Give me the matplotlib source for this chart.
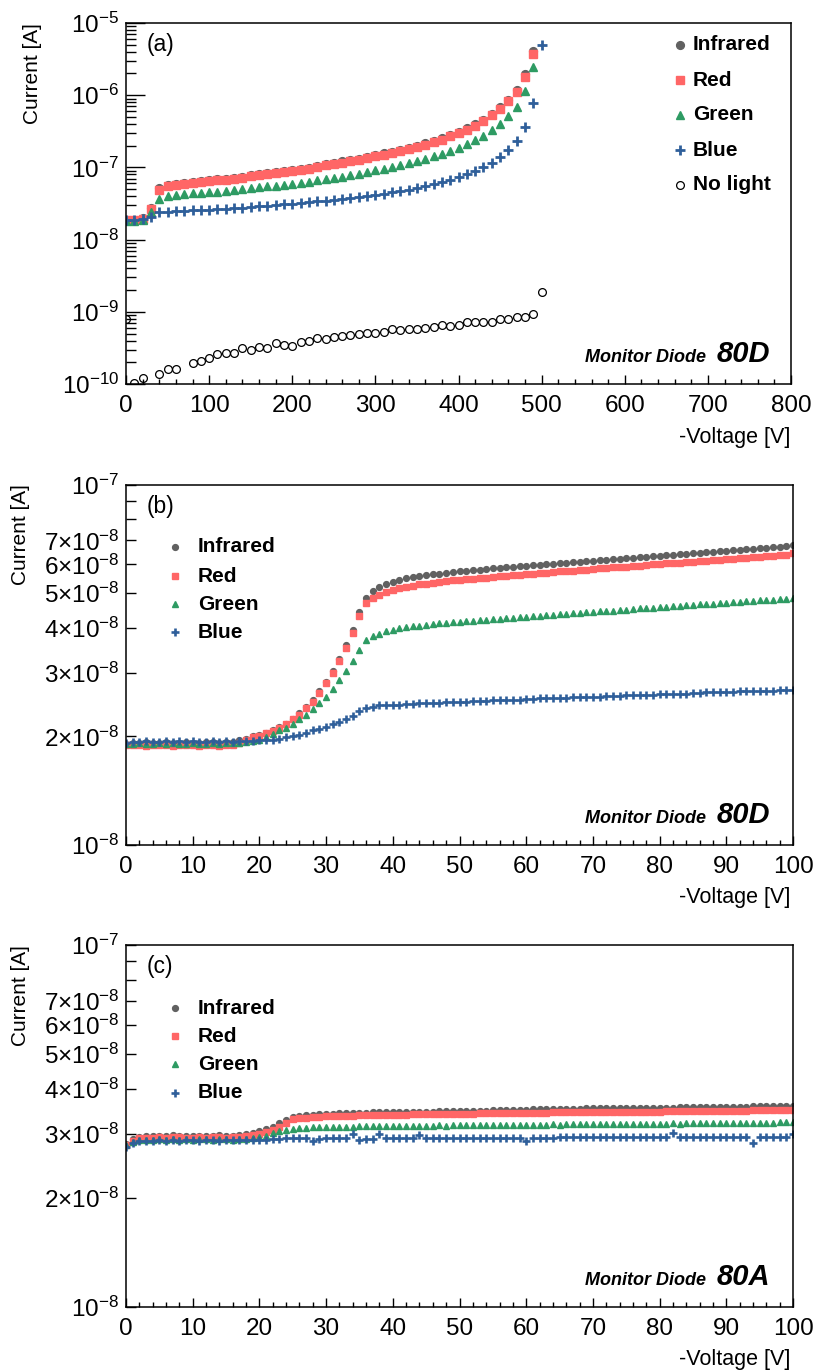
import numpy as np
import matplotlib
matplotlib.use('Agg')
import matplotlib.pyplot as plt
from matplotlib.ticker import FixedLocator, FuncFormatter, MultipleLocator, NullFormatter

plt.rcParams['font.family'] = 'Liberation Sans'
plt.rcParams['mathtext.fontset'] = 'custom'
plt.rcParams['mathtext.rm'] = 'Liberation Sans'
plt.rcParams['mathtext.it'] = 'Liberation Sans:italic'
plt.rcParams['mathtext.bf'] = 'Liberation Sans:bold'

# ---- (a) Monitor Diode 80D, full sweep, 10 V steps ----
volt_a = np.arange(0, 510, 10)
# currents in units of 1e-8 A (0 ... 490 V)
infrared_a = [1.86, 1.86, 1.96, 2.75, 5.14, 5.66, 5.97, 6.17, 6.36, 6.50,
              6.65, 6.85, 7.01, 7.24, 7.47, 7.80, 8.05, 8.39, 8.66, 8.94,
              9.25, 9.65, 9.96, 10.5, 11.1, 11.5, 12.1, 12.6, 13.1, 13.8,
              14.8, 15.6, 16.6, 17.6, 18.7, 20.0, 21.5, 23.4, 25.2, 28.1,
              31.2, 34.7, 39.4, 45.8, 55.0, 68.5, 87.0, 117, 196, 411]
red_a = [1.84, 1.84, 1.94, 2.67, 4.94, 5.44, 5.74, 5.93, 6.12, 6.25,
         6.39, 6.59, 6.74, 6.96, 7.18, 7.50, 7.74, 8.07, 8.33, 8.60,
         8.89, 9.28, 9.58, 10.1, 10.7, 11.1, 11.6, 12.1, 12.6, 13.3,
         14.2, 15.0, 16.0, 16.9, 18.0, 19.2, 20.7, 22.5, 24.2, 27.0,
         30.0, 33.4, 37.9, 44.0, 52.8, 65.3, 82.6, 110, 176, 367]
green_a = [1.80, 1.80, 1.86, 2.40, 3.66, 4.00, 4.19, 4.29, 4.40, 4.46,
           4.52, 4.63, 4.72, 4.84, 4.97, 5.15, 5.28, 5.47, 5.61, 5.74,
           5.91, 6.13, 6.30, 6.60, 6.96, 7.17, 7.48, 7.78, 8.08, 8.51,
           9.06, 9.55, 10.2, 10.7, 11.4, 12.1, 13.1, 14.2, 15.2, 16.9,
           18.8, 20.8, 23.6, 27.3, 32.7, 40.3, 51.0, 69.4, 114, 248]
# 0 ... 500 V
blue_a = [1.85, 1.85, 1.91, 2.04, 2.40, 2.45, 2.49, 2.52, 2.55, 2.57,
          2.60, 2.64, 2.68, 2.73, 2.78, 2.84, 2.90, 2.96, 3.02, 3.09,
          3.16, 3.23, 3.30, 3.38, 3.47, 3.56, 3.65, 3.76, 3.88, 4.00,
          4.17, 4.35, 4.50, 4.69, 4.90, 5.16, 5.45, 5.81, 6.25, 6.75,
          7.33, 8.00, 8.89, 10.1, 11.6, 13.9, 17.2, 23.2, 36.3, 79.2, 495]
# dark current in units of 1e-10 A (0 ... 500 V)
nolight_a = [8.07, 1.02, 1.20, np.nan, 1.39, 1.60, 1.60, np.nan, 1.98, 2.09,
             2.27, 2.58, 2.72, 2.72, 3.13, 2.94, 3.30, 3.20, 3.67, 3.48,
             3.37, 3.87, 3.96, 4.40, 4.17, 4.50, 4.64, 4.74, 4.90, 5.11,
             5.08, 5.27, 5.74, 5.62, 5.80, 5.80, 6.00, 6.13, 6.53, 6.33,
             6.53, 7.11, 7.11, 7.26, 7.11, 7.91, 7.91, 8.34, 8.50, 9.40, 19.0]

# ---- (b) Monitor Diode 80D, 0-100 V in 1 V steps, units of 1e-8 A ----
volt_bc = np.arange(0, 101)
infrared_b = [1.91, 1.92, 1.92, 1.93, 1.92, 1.92, 1.93, 1.92, 1.92, 1.93,
              1.92, 1.92, 1.93, 1.93, 1.92, 1.93, 1.93, 1.95, 1.97, 2.00,
              2.02, 2.05, 2.08, 2.12, 2.17, 2.24, 2.32, 2.42, 2.53, 2.67,
              2.84, 3.04, 3.28, 3.58, 3.95, 4.42, 4.85, 5.05, 5.20, 5.30,
              5.38, 5.44, 5.49, 5.53, 5.57, 5.60, 5.63, 5.66, 5.69, 5.72,
              5.74, 5.76, 5.79, 5.81, 5.83, 5.85, 5.87, 5.89, 5.91, 5.93,
              5.95, 5.97, 5.99, 6.01, 6.03, 6.05, 6.07, 6.09, 6.11, 6.13,
              6.15, 6.17, 6.19, 6.21, 6.23, 6.25, 6.27, 6.29, 6.31, 6.33,
              6.35, 6.37, 6.39, 6.41, 6.43, 6.45, 6.47, 6.49, 6.51, 6.53,
              6.55, 6.57, 6.59, 6.61, 6.63, 6.65, 6.67, 6.69, 6.72, 6.74,
              6.80]
red_b = [1.89, 1.90, 1.89, 1.88, 1.89, 1.90, 1.89, 1.88, 1.89, 1.89,
         1.90, 1.88, 1.89, 1.89, 1.88, 1.89, 1.90, 1.92, 1.95, 1.99,
         2.01, 2.04, 2.07, 2.11, 2.16, 2.23, 2.30, 2.40, 2.50, 2.64,
         2.81, 3.00, 3.23, 3.52, 3.88, 4.32, 4.70, 4.85, 4.95, 5.03,
         5.10, 5.16, 5.20, 5.24, 5.28, 5.31, 5.34, 5.37, 5.39, 5.42,
         5.44, 5.46, 5.48, 5.50, 5.52, 5.54, 5.56, 5.58, 5.60, 5.62,
         5.64, 5.66, 5.68, 5.70, 5.72, 5.74, 5.76, 5.77, 5.79, 5.81,
         5.83, 5.85, 5.87, 5.89, 5.91, 5.92, 5.94, 5.96, 5.98, 6.00,
         6.02, 6.04, 6.06, 6.07, 6.09, 6.11, 6.13, 6.15, 6.17, 6.19,
         6.21, 6.23, 6.25, 6.27, 6.28, 6.30, 6.32, 6.34, 6.37, 6.39,
         6.45]
green_b = [1.91, 1.91, 1.92, 1.91, 1.91, 1.92, 1.91, 1.92, 1.91, 1.91,
           1.92, 1.91, 1.91, 1.92, 1.91, 1.92, 1.92, 1.92, 1.93, 1.94,
           1.96, 1.99, 2.03, 2.08, 2.11, 2.16, 2.23, 2.30, 2.38, 2.48,
           2.58, 2.71, 2.86, 3.03, 3.23, 3.47, 3.71, 3.80, 3.86, 3.92,
           3.96, 3.99, 4.02, 4.04, 4.06, 4.08, 4.10, 4.12, 4.13, 4.15,
           4.16, 4.17, 4.19, 4.20, 4.22, 4.23, 4.24, 4.26, 4.27, 4.28,
           4.30, 4.31, 4.33, 4.34, 4.35, 4.37, 4.38, 4.39, 4.41, 4.42,
           4.43, 4.45, 4.46, 4.47, 4.49, 4.50, 4.51, 4.53, 4.54, 4.55,
           4.57, 4.58, 4.59, 4.61, 4.62, 4.63, 4.65, 4.66, 4.67, 4.69,
           4.70, 4.71, 4.73, 4.74, 4.75, 4.77, 4.78, 4.79, 4.81, 4.82,
           4.84]
blue_b = [1.92, 1.93, 1.93, 1.94, 1.93, 1.93, 1.94, 1.93, 1.94, 1.93,
          1.94, 1.93, 1.93, 1.94, 1.93, 1.94, 1.93, 1.94, 1.94, 1.94,
          1.95, 1.95, 1.96, 1.97, 1.99, 2.00, 2.02, 2.05, 2.08, 2.10,
          2.13, 2.16, 2.19, 2.23, 2.28, 2.35, 2.40, 2.42, 2.44, 2.44,
          2.45, 2.45, 2.46, 2.46, 2.47, 2.47, 2.48, 2.48, 2.49, 2.49,
          2.50, 2.50, 2.51, 2.51, 2.51, 2.52, 2.52, 2.53, 2.53, 2.53,
          2.54, 2.54, 2.55, 2.55, 2.55, 2.56, 2.56, 2.57, 2.57, 2.57,
          2.58, 2.58, 2.59, 2.59, 2.59, 2.60, 2.60, 2.61, 2.61, 2.61,
          2.62, 2.62, 2.63, 2.63, 2.63, 2.64, 2.64, 2.65, 2.65, 2.65,
          2.66, 2.66, 2.67, 2.67, 2.67, 2.68, 2.68, 2.68, 2.69, 2.69,
          2.69]

# ---- (c) Monitor Diode 80A, 0-100 V in 1 V steps, units of 1e-8 A ----
infrared_c = [2.82, 2.90, 2.95, 2.96, 2.97, 2.96, 2.97, 2.98, 2.97, 2.96,
              2.97, 2.97, 2.96, 2.97, 2.98, 2.97, 2.97, 2.98, 3.00, 3.02,
              3.05, 3.09, 3.14, 3.21, 3.28, 3.34, 3.37, 3.38, 3.39, 3.40,
              3.41, 3.41, 3.42, 3.42, 3.43, 3.43, 3.43, 3.44, 3.44, 3.44,
              3.45, 3.45, 3.45, 3.46, 3.46, 3.46, 3.46, 3.47, 3.47, 3.47,
              3.47, 3.48, 3.48, 3.48, 3.48, 3.49, 3.49, 3.49, 3.49, 3.50,
              3.50, 3.51, 3.51, 3.51, 3.51, 3.52, 3.52, 3.52, 3.52, 3.53,
              3.53, 3.53, 3.53, 3.54, 3.54, 3.54, 3.54, 3.54, 3.55, 3.55,
              3.55, 3.55, 3.55, 3.56, 3.56, 3.56, 3.56, 3.56, 3.57, 3.57,
              3.57, 3.57, 3.57, 3.57, 3.58, 3.58, 3.58, 3.58, 3.58, 3.59,
              3.59]
red_c = [2.80, 2.87, 2.92, 2.93, 2.93, 2.94, 2.93, 2.94, 2.94, 2.93,
         2.93, 2.94, 2.93, 2.94, 2.94, 2.93, 2.94, 2.95, 2.96, 2.98,
         3.00, 3.04, 3.08, 3.13, 3.21, 3.30, 3.32, 3.33, 3.34, 3.35,
         3.36, 3.36, 3.37, 3.37, 3.37, 3.38, 3.38, 3.38, 3.38, 3.39,
         3.39, 3.39, 3.39, 3.40, 3.40, 3.40, 3.40, 3.40, 3.41, 3.41,
         3.41, 3.41, 3.41, 3.42, 3.42, 3.42, 3.42, 3.42, 3.43, 3.43,
         3.43, 3.43, 3.43, 3.43, 3.44, 3.44, 3.44, 3.44, 3.44, 3.44,
         3.45, 3.45, 3.45, 3.45, 3.45, 3.46, 3.46, 3.46, 3.46, 3.46,
         3.46, 3.47, 3.47, 3.47, 3.47, 3.47, 3.47, 3.48, 3.48, 3.48,
         3.48, 3.48, 3.48, 3.48, 3.49, 3.49, 3.49, 3.49, 3.49, 3.49,
         3.50]
green_c = [2.80, 2.85, 2.88, 2.89, 2.89, 2.90, 2.89, 2.90, 2.89, 2.90,
           2.89, 2.90, 2.90, 2.89, 2.90, 2.90, 2.89, 2.90, 2.91, 2.92,
           2.94, 2.97, 3.01, 3.05, 3.08, 3.10, 3.12, 3.12, 3.13, 3.13,
           3.13, 3.14, 3.14, 3.14, 3.14, 3.15, 3.15, 3.15, 3.15, 3.15,
           3.15, 3.16, 3.16, 3.16, 3.16, 3.16, 3.16, 3.17, 3.16, 3.17,
           3.17, 3.17, 3.17, 3.17, 3.17, 3.18, 3.17, 3.18, 3.18, 3.18,
           3.18, 3.18, 3.18, 3.18, 3.19, 3.18, 3.19, 3.19, 3.19, 3.19,
           3.19, 3.19, 3.19, 3.20, 3.19, 3.20, 3.20, 3.20, 3.20, 3.20,
           3.20, 3.20, 3.21, 3.20, 3.21, 3.21, 3.21, 3.21, 3.21, 3.21,
           3.21, 3.22, 3.21, 3.22, 3.22, 3.22, 3.22, 3.22, 3.23, 3.23,
           3.24]
blue_c = [2.76, 2.83, 2.86, 2.87, 2.87, 2.88, 2.87, 2.88, 2.87, 2.88,
          2.88, 2.87, 2.88, 2.88, 2.87, 2.88, 2.89, 2.88, 2.88, 2.89,
          2.89, 2.89, 2.90, 2.91, 2.92, 2.92, 2.92, 2.92, 2.86, 2.91,
          2.92, 2.92, 2.92, 2.92, 3.00, 2.88, 2.90, 2.90, 3.00, 2.92,
          2.92, 2.92, 2.92, 2.93, 2.99, 2.93, 2.93, 2.93, 2.93, 2.93,
          2.93, 2.93, 2.93, 2.93, 2.93, 2.93, 2.93, 2.93, 2.93, 2.93,
          2.87, 2.93, 2.93, 2.93, 2.93, 2.94, 2.94, 2.94, 2.94, 2.94,
          2.94, 2.94, 2.94, 2.94, 2.94, 2.94, 2.94, 2.94, 2.94, 2.94,
          2.94, 2.94, 3.01, 2.94, 2.94, 2.94, 2.94, 2.94, 2.94, 2.94,
          2.94, 2.94, 2.94, 2.94, 2.84, 2.94, 2.94, 2.95, 2.95, 2.95,
          3.00]

labels = ['Infrared', 'Red', 'Green', 'Blue', 'No light']
colors = ['#616161', '#ff6666', '#2e9b63', '#2f5f9a', 'black']
markers = ['o', 's', '^', '+', 'o']

W, H = 813, 1371
fig = plt.figure(figsize=(W / 100, H / 100), dpi=100)


def px_axes(left, right, top, bottom):
    return fig.add_axes([left / W, 1 - bottom / H, (right - left) / W, (bottom - top) / H])


def style(ms, plus_width):
    out = []
    for i in range(5):
        kw = dict(linestyle='none', marker=markers[i], color=colors[i], ms=ms[i])
        if markers[i] == '+':
            kw['mew'] = plus_width
        if i == 4:
            kw.update(mfc='none', mew=0.9)
        else:
            kw['mec'] = colors[i]
        out.append(kw)
    return out


def frame(ax):
    for s in ax.spines.values():
        s.set_linewidth(1.1)
    ax.tick_params(which='both', direction='in', top=False, right=False, labelsize=17.5, width=1.0)
    ax.tick_params(axis='x', which='major', length=6.5, pad=8)
    ax.tick_params(axis='x', which='minor', length=3.3)
    ax.tick_params(axis='y', which='major', pad=5)


def legend(ax, names, kws, x_mark, x_text, ys, top_px, bottom_px, left_px, right_px):
    for name, kw, y in zip(names, kws, ys):
        fx = (x_mark - left_px) / (right_px - left_px)
        fy = (bottom_px - y) / (bottom_px - top_px)
        ax.plot([fx], [fy], transform=ax.transAxes, clip_on=False, **kw)
        tx = (x_text - left_px) / (right_px - left_px)
        ax.text(tx, fy, name, transform=ax.transAxes, fontsize=15, fontweight='bold',
                va='center', ha='left')


def annotate(ax, letter, diode, left_px, right_px, top_px, bottom_px):
    h = bottom_px - top_px
    w = right_px - left_px
    ax.text((147 - left_px) / w, 1 - 22 / h, '(%s)' % letter, transform=ax.transAxes,
            fontsize=16.5, va='center', ha='left')
    yb = 22 / h
    ax.text((706 - left_px) / w, yb, 'Monitor Diode', transform=ax.transAxes,
            fontsize=13, fontweight='bold', fontstyle='italic', ha='right', va='baseline')
    ax.text((717 - left_px) / w, yb, diode, transform=ax.transAxes,
            fontsize=21, fontweight='bold', fontstyle='italic', ha='left', va='baseline')
    ax.text(1 - (right_px - 790) / w, -53 / h, '-Voltage [V]',
            transform=ax.transAxes, fontsize=15.5, ha='right', va='center')


def ylabel(x_px, top_px):
    fig.text(x_px / W, 1 - top_px / H, 'Current [A]', rotation=90, fontsize=15,
             ha='center', va='top')


# ---------------- panel (a) ----------------
La, Ra, Ta, Ba = 126, 791, 23, 384
ax = px_axes(La, Ra, Ta, Ba)
kw_a = style([5.6, 5.2, 5.8, 6.8, 5.6], 2.0)
v49 = volt_a[:50]
ax.plot(v49, np.array(infrared_a) * 1e-8, **kw_a[0])
ax.plot(v49, np.array(red_a) * 1e-8, **kw_a[1])
ax.plot(v49, np.array(green_a) * 1e-8, **kw_a[2])
ax.plot(volt_a, np.array(blue_a) * 1e-8, **kw_a[3])
ax.plot(volt_a, np.array(nolight_a) * 1e-10, **kw_a[4])
ax.set_yscale('log')
ax.set_xlim(0, 800)
ax.set_ylim(1e-10, 1e-5)
ax.xaxis.set_major_locator(MultipleLocator(100))
ax.xaxis.set_minor_locator(MultipleLocator(20))
ax.yaxis.set_major_locator(FixedLocator([1e-10, 1e-9, 1e-8, 1e-7, 1e-6, 1e-5]))
ax.yaxis.set_minor_locator(FixedLocator([m * 10.0 ** e for e in range(-10, -5) for m in range(2, 10)]))
ax.yaxis.set_major_formatter(FuncFormatter(lambda v, p: r'$10^{%d}$' % round(np.log10(v))))
ax.yaxis.set_minor_formatter(NullFormatter())
frame(ax)
ax.tick_params(axis='y', which='major', length=14)
ax.tick_params(axis='y', which='minor', length=7)
legend(ax, labels, kw_a, 680, 693, [45, 80, 115, 150, 185], Ta, Ba, La, Ra)
annotate(ax, 'a', '80D', La, Ra, Ta, Ba)
ylabel(33, Ta)


def small_panel(T, B, series, letter, diode, leg_ys):
    L, R = 126, 793
    ax = px_axes(L, R, T, B)
    kw = style([4.2, 4.5, 4.6, 5.8, 4.0], 1.9)
    for vals, k in zip(series, kw[:4]):
        ax.plot(volt_bc, np.array(vals) * 1e-8, **k)
    ax.set_yscale('log')
    ax.set_xlim(0, 100)
    ax.set_ylim(1e-8, 1e-7)
    ax.xaxis.set_major_locator(MultipleLocator(10))
    ax.xaxis.set_minor_locator(MultipleLocator(2))
    ax.yaxis.set_major_locator(FixedLocator([1e-8, 2e-8, 3e-8, 4e-8, 5e-8, 6e-8, 7e-8, 1e-7]))
    ax.yaxis.set_minor_locator(FixedLocator([8e-8, 9e-8]))

    def fmt(v, p):
        m = v / 1e-8
        if abs(m - 1) < 1e-6:
            return r'$10^{-8}$'
        if abs(m - 10) < 1e-6:
            return r'$10^{-7}$'
        return r'$%d{\times}10^{-8}$' % round(m)

    ax.yaxis.set_major_formatter(FuncFormatter(fmt))
    ax.yaxis.set_minor_formatter(NullFormatter())
    frame(ax)
    ax.tick_params(axis='y', which='both', length=7)
    legend(ax, labels[:4], kw[:4], 175, 198, leg_ys, T, B, L, R)
    annotate(ax, letter, diode, L, R, T, B)
    ylabel(21, T)
    return ax


small_panel(484.5, 845, [infrared_b, red_b, green_b, blue_b], 'b', '80D', [547, 576, 604, 632])
small_panel(944.7, 1306.7, [infrared_c, red_c, green_c, blue_c], 'c', '80A', [1008, 1036, 1064, 1093])

fig.savefig('out.png', dpi=100)
